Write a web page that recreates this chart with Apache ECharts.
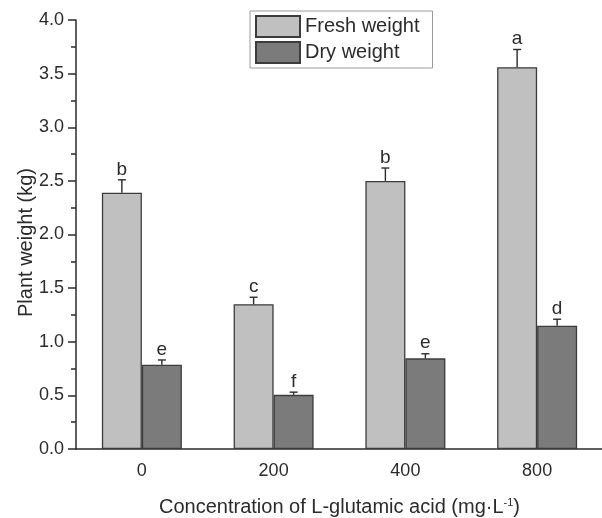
<!DOCTYPE html>
<html>
<head>
<meta charset="utf-8">
<script src="https://cdn.jsdelivr.net/npm/echarts@6/dist/echarts.min.js"></script>
<style>
  html, body { margin: 0; padding: 0; background: #fff; }
  #chart { width: 602px; height: 518px; }
</style>
</head>
<body>
<div id="chart"></div>
<script>
// L-glutamic acid concentration groups (mg·L-1)
const categories = ['0', '200', '400', '800'];

// Plant weight means (kg) and their standard errors
const freshWeight = [2.39, 1.35, 2.50, 3.56];
const freshError  = [0.12, 0.065, 0.12, 0.165];
const dryWeight   = [0.785, 0.505, 0.845, 1.15];
const dryError    = [0.045, 0.025, 0.043, 0.06];

// Significance letters shown above each bar
const freshLetters = ['b', 'c', 'b', 'a'];
const dryLetters   = ['e', 'f', 'e', 'd'];

// Y-axis ticks
const yTicks = { min: 0, max: 4, interval: 0.5 };

const FONT = '"Liberation Sans", Arial, Helvetica, sans-serif';
const INK = '#2b2b2b';
const BAR_WIDTH = 40;
const CAP_HALF = 4;

const chart = echarts.init(document.getElementById('chart'), null, { renderer: 'canvas' });

// Error whisker (upward only) with cap and letter, offset to sit over its bar
function errorRenderer(values, errors, letters, shift) {
  return function (params, api) {
    const i = api.value(0);
    const base = api.coord([i, values[i]]);
    const top = api.coord([i, values[i] + errors[i]]);
    const x = base[0] + shift;
    return {
      type: 'group',
      children: [
        { type: 'line', shape: { x1: x, y1: base[1], x2: x, y2: top[1] },
          style: { stroke: INK, lineWidth: 1.4 } },
        { type: 'line', shape: { x1: x - CAP_HALF, y1: top[1], x2: x + CAP_HALF, y2: top[1] },
          style: { stroke: INK, lineWidth: 1.4 } },
        { type: 'text', x: x, y: top[1] - 1,
          style: { text: letters[i], fill: INK, font: '19px ' + FONT,
                   align: 'center', verticalAlign: 'bottom' } }
      ]
    };
  };
}

const option = {
  animation: false,
  backgroundColor: '#ffffff',
  textStyle: { fontFamily: FONT, color: INK },
  grid: { left: 76, top: 20, bottom: 69, width: 527, containLabel: false, outerBoundsMode: 'none' },
  legend: {
    orient: 'vertical',
    left: 250, top: 11,
    padding: [4, 13, 4, 5],
    itemGap: 3,
    itemWidth: 44, itemHeight: 21,
    icon: 'rect',
    borderColor: '#9a9a9a', borderWidth: 1,
    textStyle: { fontSize: 20, color: INK, fontFamily: FONT },
    data: ['Fresh weight', 'Dry weight']
  },
  xAxis: [
    {
      type: 'category',
      data: categories,
      name: 'Concentration of L-glutamic acid (mg·L{sup|-1})',
      nameLocation: 'middle',
      nameGap: 48,
      nameMoveOverlap: false,
      nameTextStyle: {
        fontSize: 20, color: INK, fontFamily: FONT,
        rich: { sup: { fontSize: 11, color: INK, fontFamily: FONT, verticalAlign: 'top', padding: [0, 0, 10, 0] } }
      },
      axisLine: { lineStyle: { color: INK, width: 1.5 } },
      axisTick: { alignWithLabel: true, length: 7, lineStyle: { color: INK, width: 1.5 } },
      axisLabel: { fontSize: 18, color: INK, margin: 13, fontFamily: FONT },
      splitLine: { show: false }
    },
    {
      // boundary ticks between concentration groups
      type: 'category',
      data: categories,
      position: 'bottom',
      gridIndex: 0,
      axisLine: { show: false },
      axisTick: { length: 6, lineStyle: { color: INK, width: 1.5 } },
      axisLabel: { show: false },
      splitLine: { show: false }
    }
  ],
  yAxis: {
    type: 'value',
    min: yTicks.min, max: yTicks.max, interval: yTicks.interval,
    name: 'Plant weight (kg)',
    nameLocation: 'middle',
    nameGap: 40,
    nameMoveOverlap: false,
    nameTextStyle: { fontSize: 20, color: INK, fontFamily: FONT, padding: [0, 16, 0, 0] },
    axisLine: { show: true, lineStyle: { color: INK, width: 1.5 } },
    axisTick: { show: true, length: 8, lineStyle: { color: INK, width: 1.5 } },
    minorTick: { show: true, splitNumber: 2, length: 5, lineStyle: { color: INK, width: 1.5 } },
    axisLabel: { fontSize: 18, color: INK, margin: 12, fontFamily: FONT,
                 formatter: v => v.toFixed(1) },
    splitLine: { show: false }
  },
  series: [
    {
      name: 'Fresh weight', type: 'bar', xAxisIndex: 0,
      data: freshWeight,
      barWidth: BAR_WIDTH, barGap: '0%',
      itemStyle: { color: '#c0c0c0', borderColor: '#3c3c3c', borderWidth: 1.3 }
    },
    {
      name: 'Dry weight', type: 'bar', xAxisIndex: 0,
      data: dryWeight,
      barWidth: BAR_WIDTH, barGap: '0%',
      itemStyle: { color: '#7b7b7b', borderColor: '#3c3c3c', borderWidth: 1.3 }
    },
    {
      type: 'custom', xAxisIndex: 0, z: 3,
      renderItem: errorRenderer(freshWeight, freshError, freshLetters, -BAR_WIDTH / 2),
      data: categories.map((c, i) => [i, freshWeight[i] + freshError[i]])
    },
    {
      type: 'custom', xAxisIndex: 0, z: 3,
      renderItem: errorRenderer(dryWeight, dryError, dryLetters, BAR_WIDTH / 2),
      data: categories.map((c, i) => [i, dryWeight[i] + dryError[i]])
    }
  ]
};

chart.setOption(option);
</script>
</body>
</html>
